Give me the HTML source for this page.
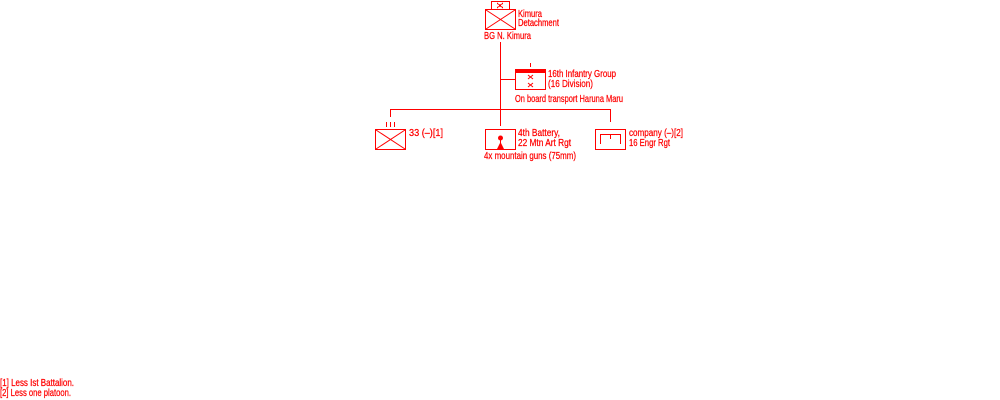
<!DOCTYPE html>
<html><head><meta charset="utf-8"><style>
html,body{margin:0;padding:0;background:#fff;}
svg{display:block;}
text{font-family:"Liberation Sans",sans-serif;font-size:10px;fill:#f00;stroke:#f00;stroke-width:0.25;}
</style></head><body>
<svg width="1000" height="400" viewBox="0 0 1000 400" xmlns="http://www.w3.org/2000/svg">
<g stroke="#f00" stroke-width="1" fill="none" shape-rendering="crispEdges">
<rect x="491.5" y="1.5" width="18" height="8"/>
<path d="M497 3 L503 8 M503 3 L497 8"/>
<rect x="485.5" y="9.5" width="30" height="20"/>
<path d="M486 10 L515 29 M515 10 L486 29" shape-rendering="auto"/>
<path d="M500.5 42 V126"/>
<path d="M500 79.5 H515"/>
<path d="M530.5 63 V67"/>
<rect x="515.5" y="69.5" width="30" height="20"/>
<rect x="515.5" y="69.5" width="30" height="3" fill="#f00"/>
<path d="M528 75 L533 79 M533 75 L528 79 M528 83 L533 87 M533 83 L528 87" shape-rendering="auto"/>
<path d="M390 109.5 H611"/>
<path d="M390.5 109 V117 M610.5 109 V122"/>
<path d="M386.5 122 V127 M390.5 122 V127 M394.5 122 V127"/>
<path d="M500.5 122 V126"/>
<rect x="375.5" y="129.5" width="30" height="20"/>
<path d="M376 130 L405 149 M405 130 L376 149" shape-rendering="auto"/>
<rect x="485.5" y="129.5" width="30" height="20"/>
<path d="M500.5 139 V146"/>
<rect x="595.5" y="129.5" width="30" height="20"/>
<path d="M600.5 144 V134.5 H620.5 V144 M610.5 134 V139"/>
</g>
<circle cx="500.5" cy="138" r="2.5" fill="#f00"/>
<path d="M497 149 L500.5 142 L504 149 Z" fill="#f00"/>
<text x="518" y="17" textLength="24" lengthAdjust="spacingAndGlyphs">Kimura</text>
<text x="518" y="26" textLength="41" lengthAdjust="spacingAndGlyphs">Detachment</text>
<text x="484" y="39" textLength="47" lengthAdjust="spacingAndGlyphs">BG  N. Kimura</text>
<text x="548" y="77" textLength="68" lengthAdjust="spacingAndGlyphs">16th Infantry Group</text>
<text x="548" y="87" textLength="45" lengthAdjust="spacingAndGlyphs">(16 Division)</text>
<text x="515" y="102" textLength="108" lengthAdjust="spacingAndGlyphs">On board transport Haruna Maru</text>
<text x="409" y="136" textLength="34" lengthAdjust="spacingAndGlyphs">33 (–)[1]</text>
<text x="518" y="136" textLength="42" lengthAdjust="spacingAndGlyphs">4th Battery,</text>
<text x="518" y="146" textLength="53" lengthAdjust="spacingAndGlyphs">22 Mtn Art Rgt</text>
<text x="484" y="159" textLength="92" lengthAdjust="spacingAndGlyphs">4x mountain guns (75mm)</text>
<text x="629" y="136" textLength="54" lengthAdjust="spacingAndGlyphs">company (–)[2]</text>
<text x="629" y="146" textLength="41" lengthAdjust="spacingAndGlyphs">16 Engr Rgt</text>
<text x="0" y="386" textLength="74" lengthAdjust="spacingAndGlyphs">[1] Less Ist Battalion.</text>
<text x="0" y="396" textLength="71" lengthAdjust="spacingAndGlyphs">[2] Less one platoon.</text>
</svg>
</body></html>
